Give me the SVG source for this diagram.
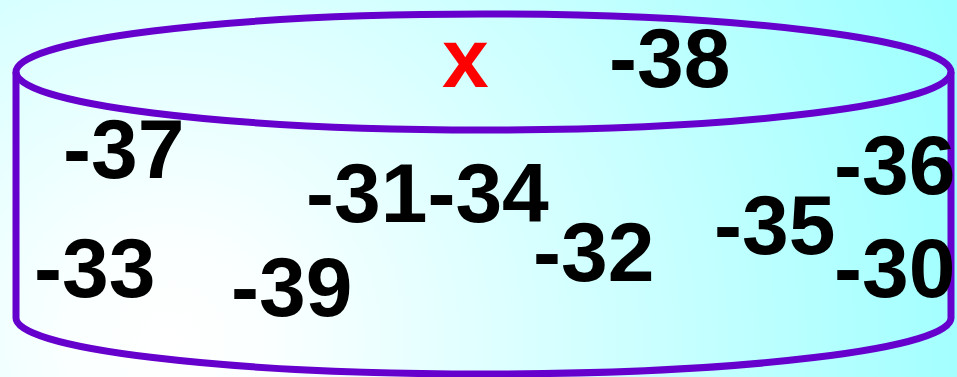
<svg xmlns="http://www.w3.org/2000/svg" width="957" height="377" viewBox="0 0 957 377">
<defs>
<radialGradient id="bg" gradientUnits="userSpaceOnUse" cx="170" cy="340" r="870" fx="170" fy="340">
<stop offset="0" stop-color="#FFFFFF"/>
<stop offset="0.12" stop-color="#FAFFFF"/>
<stop offset="1" stop-color="#99FFFF"/>
</radialGradient>
<style>
.cyl{fill:none;stroke:#6600CC;stroke-width:7;stroke-linejoin:round}
.n{font-family:"Liberation Sans",Arial,sans-serif;font-weight:bold;font-size:84px;fill:#000000}
.x{fill:#FF0000}
</style>
</defs>
<rect x="0" y="0" width="957" height="377" fill="url(#bg)"/>
<g id="cylinder">
<ellipse class="cyl" cx="483.5" cy="72" rx="467.5" ry="58"/>
<path class="cyl" d="M16,72 V318 A467.5 56 0 0 0 951,318 V72"/>
</g>
<g id="labels">
<text id="t-x" class="n x" x="442" y="87">x</text>
<text id="t-38" class="n" x="609" y="87">-38</text>
<text id="t-37" class="n" x="63" y="178">-37</text>
<text id="t-3134" class="n" x="306" y="222">-31-34</text>
<text id="t-36" class="n" x="834" y="194">-36</text>
<text id="t-35" class="n" x="714" y="254">-35</text>
<text id="t-30" class="n" x="834" y="297">-30</text>
<text id="t-33" class="n" x="34" y="297">-33</text>
<text id="t-39" class="n" x="231" y="316">-39</text>
<text id="t-32" class="n" x="533" y="281">-32</text>
</g>
</svg>
